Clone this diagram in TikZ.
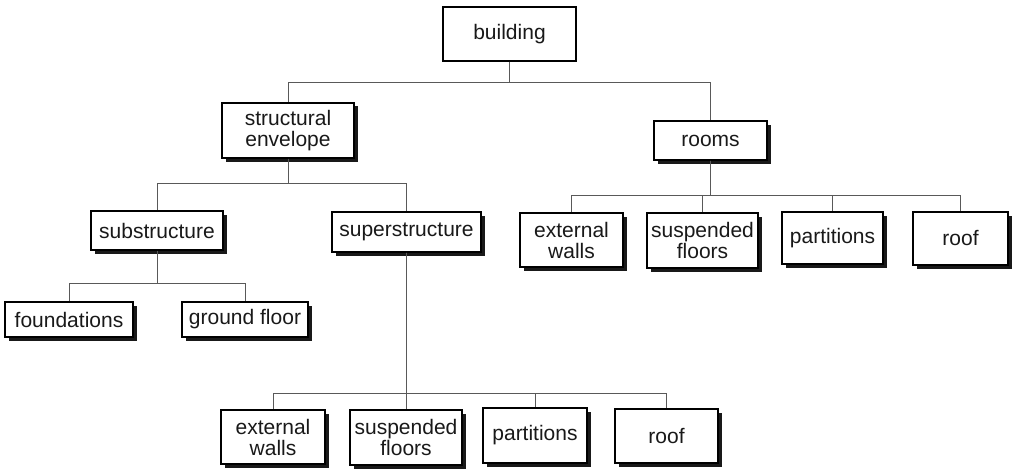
\documentclass[tikz,border=0pt]{standalone}
\usepackage{fontspec}
\setmainfont{Liberation Sans}
\usetikzlibrary{shadows}
\begin{document}
\begin{tikzpicture}[x=1pt,y=-1pt,
  box/.style={draw=black, line width=1.4pt, fill=white, inner sep=0pt, align=center,
    font=\fontsize{21}{21}\selectfont, text=black!90},
  sbox/.style={box, drop shadow={shadow xshift=3.5pt, shadow yshift=-3.5pt, fill=black!90, opacity=1}},
  conn/.style={draw=black!65, line width=1pt}]
\useasboundingbox (0,0) rectangle (1016,468);
\node[box, minimum width=133, minimum height=54] (building) at (509.5,34) {building};
\node[sbox, minimum width=132, minimum height=55] (env) at (288,130.5) {structural\\envelope};
\node[sbox, minimum width=113, minimum height=39] (rooms) at (710.5,140.5) {rooms};
\node[sbox, minimum width=132, minimum height=39] (sub) at (157,230.5) {substructure};
\node[sbox, minimum width=149, minimum height=40] (super) at (406.5,232) {superstructure};
\node[sbox, minimum width=128, minimum height=35] (found) at (69,319.5) {foundations};
\node[sbox, minimum width=126, minimum height=35] (ground) at (245,319.5) {ground floor};
\node[sbox, minimum width=103, minimum height=54] (rext) at (571.5,240) {external\\walls};
\node[sbox, minimum width=111, minimum height=55] (rsusp) at (702.5,240.5) {suspended\\floors};
\node[sbox, minimum width=101, minimum height=52] (rpart) at (832.5,238) {partitions};
\node[sbox, minimum width=95, minimum height=53] (rroof) at (960.5,238.5) {roof};
\node[sbox, minimum width=104, minimum height=54] (bext) at (273,437) {external\\walls};
\node[sbox, minimum width=112, minimum height=55] (bsusp) at (406,437.5) {suspended\\floors};
\node[sbox, minimum width=104, minimum height=55] (bpart) at (535,435.5) {partitions};
\node[sbox, minimum width=103, minimum height=54] (broof) at (666.5,436) {roof};
% connectors
\draw[conn] (building.south) -- ++(0,21) -| (env.north);
\draw[conn] (building.south) -- ++(0,21) -| (rooms.north);
\draw[conn] (env.south) -- ++(0,25) -| (sub.north);
\draw[conn] (env.south) -- ++(0,25) -| (super.north);
\draw[conn] (sub.south) -- ++(0,33) -| (found.north);
\draw[conn] (sub.south) -- ++(0,33) -| (ground.north);
\foreach \n in {rext,rsusp,rpart,rroof}
  \draw[conn] (rooms.south) -- ++(0,35) -| (\n.north);
\foreach \n in {bext,bsusp,bpart,broof}
  \draw[conn] (super.south) -- ++(0,141) -| (\n.north);
\end{tikzpicture}
\end{document}
